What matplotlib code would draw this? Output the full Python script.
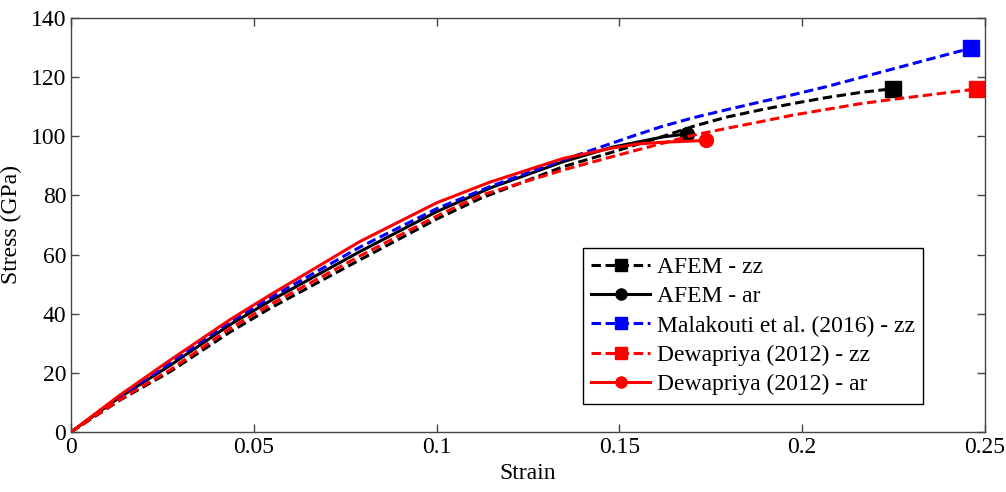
import matplotlib
matplotlib.use("Agg")
import matplotlib.pyplot as plt
from matplotlib.lines import Line2D

plt.rcParams['font.family'] = ['Liberation Serif', 'DejaVu Serif']
plt.rcParams['font.size'] = 17

# AFEM - zz
afem_zz_x = [0, 0.0134, 0.0271, 0.0435, 0.0544, 0.079, 0.1, 0.112, 0.1346, 0.148, 0.162, 0.1703, 0.1794, 0.1885, 0.1976, 0.2067, 0.2158, 0.2249]
afem_zz_y = [0, 10.8, 20.4, 33.8, 41.8, 58.2, 72.0, 79.0, 89.7, 94.6, 100.0, 103.4, 106.5, 108.9, 111.1, 113.1, 114.8, 116.1]
# AFEM - ar
afem_ar_x = [0, 0.0134, 0.0271, 0.0435, 0.0544, 0.079, 0.1, 0.1146, 0.1346, 0.148, 0.162, 0.1684]
afem_ar_y = [0, 11.8, 22.5, 36.3, 44.3, 61.0, 74.5, 82.5, 91.4, 96.3, 99.8, 100.8]
# Malakouti et al. (2016) - zz
mal_zz_x = [0, 0.0134, 0.0271, 0.0435, 0.0544, 0.079, 0.1, 0.1146, 0.1346, 0.153, 0.1613, 0.1703, 0.1794, 0.1885, 0.1976, 0.2067, 0.2158, 0.2249, 0.2355, 0.2462]
mal_zz_y = [0, 12.0, 23.3, 37.3, 45.3, 62.5, 75.5, 83.0, 92.0, 99.8, 103.2, 106.3, 109.0, 111.6, 114.1, 116.8, 119.8, 122.8, 126.3, 129.8]
# Dewapriya (2012) - zz
dew_zz_x = [0, 0.0134, 0.0271, 0.0435, 0.0544, 0.079, 0.1, 0.112, 0.1346, 0.148, 0.162, 0.1703, 0.1794, 0.1885, 0.1976, 0.2067, 0.2158, 0.2249, 0.2367, 0.2478]
dew_zz_y = [0, 11.0, 21.0, 35.0, 43.0, 59.5, 73.0, 80.0, 88.6, 93.1, 97.7, 100.4, 102.7, 104.9, 107.2, 109.1, 111.0, 112.5, 114.3, 116.0]
# Dewapriya (2012) - ar
dew_ar_x = [0, 0.0134, 0.0271, 0.0435, 0.0544, 0.079, 0.1, 0.1146, 0.1346, 0.148, 0.155, 0.162, 0.168, 0.1738]
dew_ar_y = [0, 12.5, 24.3, 38.0, 46.3, 64.4, 77.5, 84.5, 92.5, 96.0, 97.4, 98.0, 98.3, 98.6]

labels = ["AFEM - zz", "AFEM - ar", "Malakouti et al. (2016) - zz",
          "Dewapriya (2012) - zz", "Dewapriya (2012) - ar"]

x_ticks = [0, 0.05, 0.1, 0.15, 0.2, 0.25]
x_ticklabels = ["0", "0.05", "0.1", "0.15", "0.2", "0.25"]
y_ticks = [0, 20, 40, 60, 80, 100, 120, 140]

fig = plt.figure(figsize=(10.06, 4.92), dpi=100)
ax = fig.add_axes([71/1006, 60/492, 914/1006, 414/492])

lw = 2.2
dash = (3.1, 1.5)
series = [
    (afem_zz_x, afem_zz_y, 'black', '--', 's', 11),
    (afem_ar_x, afem_ar_y, 'black', '-', 'o', 10),
    (mal_zz_x, mal_zz_y, 'blue', '--', 's', 11),
    (dew_zz_x, dew_zz_y, 'red', '--', 's', 11),
    (dew_ar_x, dew_ar_y, 'red', '-', 'o', 10),
]
handles = []
for (xs, ys, c, ls, m, ms), lab in zip(series, labels):
    ln, = ax.plot(xs, ys, color=c, lw=lw, ls=ls)
    if ls == '--':
        ln.set_dashes(dash)
    ax.plot([xs[-1]], [ys[-1]], color=c, marker=m, ms=ms, ls='none')
    h = Line2D([0], [0], color=c, lw=lw, ls=ls, marker=m, ms=ms * 0.8)
    if ls == '--':
        h.set_dashes(dash)
    handles.append(h)

ax.set_xlim(0, 0.25)
ax.set_ylim(0, 140)
ax.set_xticks(x_ticks)
ax.set_xticklabels(x_ticklabels)
ax.set_yticks(y_ticks)
ax.tick_params(direction='in', length=6, width=1, top=True, right=True,
               color='#444444', labelcolor='black')
for s in ax.spines.values():
    s.set_color('#444444')
    s.set_linewidth(1)

ax.set_xlabel("Strain", labelpad=4)
ax.set_ylabel("Stress (GPa)", labelpad=6)

leg = ax.legend(handles, labels, loc='upper left', bbox_to_anchor=(0.560, 0.444),
                borderaxespad=0, fancybox=False, edgecolor='black', framealpha=1,
                handlelength=2.5, handletextpad=0.3, labelspacing=0.33,
                borderpad=0.35)
leg.get_frame().set_linewidth(1)

fig.savefig("out.png", dpi=100)
